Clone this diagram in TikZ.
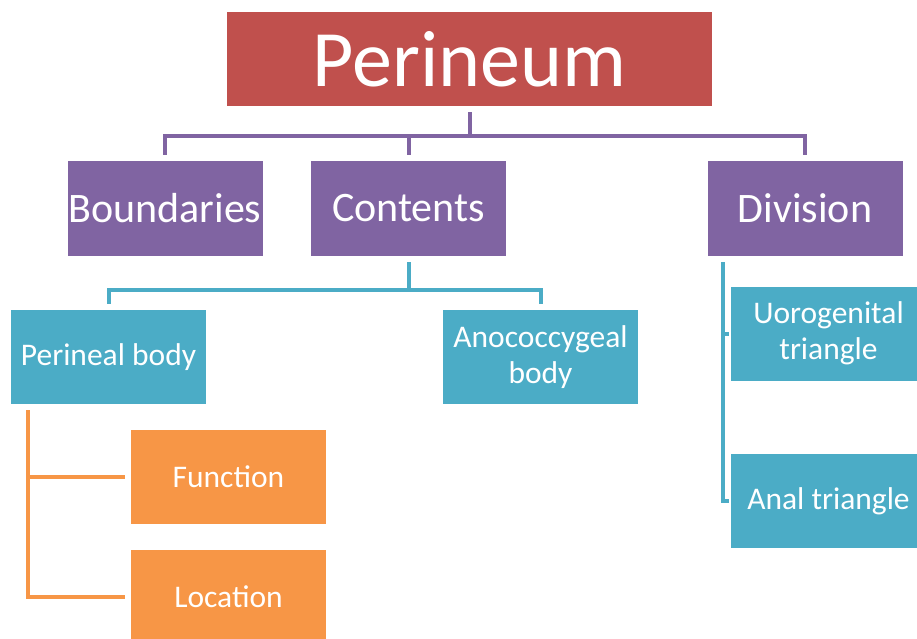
\documentclass[tikz,border=0pt]{standalone}
\usepackage{fontspec}
\setmainfont{Carlito}
\usetikzlibrary{positioning}

\definecolor{topred}{HTML}{C0504D}
\definecolor{lvlpurple}{HTML}{8064A2}
\definecolor{lvlcyan}{HTML}{4BACC6}
\definecolor{lvlorange}{HTML}{F79646}

\newcommand*{\boxw}{195pt}
\newcommand*{\boxh}{94pt}

\begin{document}
\begin{tikzpicture}
[
	x=1pt, y=-1pt,
	box/.style={rectangle,inner sep=0pt,minimum width=\boxw,minimum height=\boxh,text=white,align=center},
	topbox/.style={box,fill=topred,minimum width=485pt,font=\fontsize{80}{90}\selectfont},
	purplebox/.style={box,fill=lvlpurple,minimum height=95pt,font=\fontsize{42}{48}\selectfont},
	cyanbox/.style={box,fill=lvlcyan,font=\fontsize{31.5}{35.5}\selectfont},
	orangebox/.style={box,fill=lvlorange,font=\fontsize{31.5}{35.5}\selectfont},
	link/.style={line width=4pt,shorten <=6pt,shorten >=6pt}
]

	\useasboundingbox (0,0) rectangle (917,638);

	% top
	\node[topbox] (perineum) at (469.5,59) {Perineum};

	% second level
	\node[purplebox] (boundaries) at (165,208.5) {Boundaries};
	\node[purplebox] (contents) at (408.5,208.5) {Contents};
	\node[purplebox] (division) at (805,208.5) {Division};

	% contents
	\node[cyanbox] (perineal) at (108.5,357) {Perineal body};
	\node[cyanbox] (anococcygeal) at (540.5,357) {Anococcygeal\\body};

	% division
	\node[cyanbox] (uro) at (828.5,333.5) {Uorogenital\\triangle};
	\node[cyanbox] (anal) at (828.5,501) {Anal triangle};

	% perineal body
	\node[orangebox] (function) at (228.5,477) {Function};
	\node[orangebox] (location) at (228.5,597) {Location};

	% links
	\foreach \n in {boundaries,contents,division} {
		\draw[link,lvlpurple] (perineum.south) -- ++(0,30) -| (\n.north);
	}
	\foreach \n in {perineal,anococcygeal} {
		\draw[link,lvlcyan] (contents.south) -- ++(0,34) -| (\n.north);
	}
	\foreach \n in {uro,anal} {
		\draw[link,lvlcyan,shorten >=2pt] ([xshift=16pt]division.south west) |- (\n.west);
	}
	\foreach \n in {function,location} {
		\draw[link,lvlorange] ([xshift=17pt]perineal.south west) |- (\n.west);
	}

\end{tikzpicture}
\end{document}
